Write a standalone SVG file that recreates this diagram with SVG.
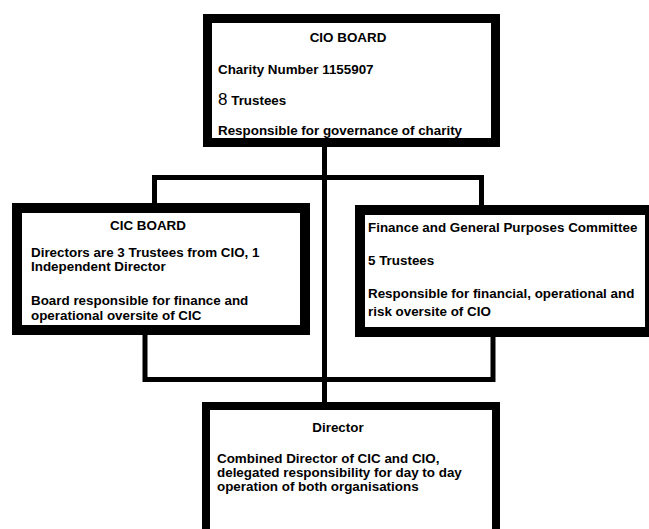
<svg xmlns="http://www.w3.org/2000/svg" width="649" height="529" viewBox="0 0 649 529">
<style>
.box{fill:#fff;stroke:#000}
.t{font-family:"Liberation Sans",Arial,sans-serif;font-weight:bold;font-size:13.4px;fill:#000}
.c{text-anchor:middle}
.conn{stroke:#000;stroke-width:5;fill:none;stroke-linecap:square}
</style>
<rect width="649" height="529" fill="#fff"/>
<g id="connectors">
<line class="conn" x1="324.5" y1="147" x2="324.5" y2="403"/>
<polyline class="conn" points="154.5,204 154.5,177.5 481.5,177.5 481.5,206"/>
<polyline class="conn" points="145,334 145,379.5 493,379.5 493,336"/>
</g>
<g id="cio-board">
<rect class="box" x="207.5" y="18.5" width="288" height="124" stroke-width="9"/>
<text class="t c" x="348" y="42">CIO BOARD</text>
<text class="t" x="218" y="74">Charity Number 1155907</text>
<text class="t" x="218" y="105"><tspan font-size="17" font-weight="normal">8</tspan> Trustees</text>
<text class="t" x="218" y="135">Responsible for governance of charity</text>
</g>
<g id="cic-board">
<rect class="box" x="17" y="208" width="288" height="122" stroke-width="10"/>
<text class="t c" x="148" y="230">CIC BOARD</text>
<text class="t" x="31" y="257">Directors are 3 Trustees from CIO, 1</text>
<text class="t" x="31" y="271">Independent Director</text>
<text class="t" x="31" y="305">Board responsible for finance and</text>
<text class="t" x="31" y="320">operational oversite of CIC</text>
</g>
<g id="fgp-committee">
<rect class="box" x="360" y="210" width="290" height="122" stroke-width="10"/>
<text class="t" x="368" y="232">Finance and General Purposes Committee</text>
<text class="t" x="368" y="265">5 Trustees</text>
<text class="t" x="368" y="298">Responsible for financial, operational and</text>
<text class="t" x="368" y="316">risk oversite of CIO</text>
</g>
<g id="director">
<rect class="box" x="206" y="406" width="290" height="150" stroke-width="8"/>
<text class="t c" x="338" y="432">Director</text>
<text class="t" x="217" y="463">Combined Director of CIC and CIO,</text>
<text class="t" x="217" y="477">delegated responsibility for day to day</text>
<text class="t" x="217" y="491">operation of both organisations</text>
</g>
</svg>
